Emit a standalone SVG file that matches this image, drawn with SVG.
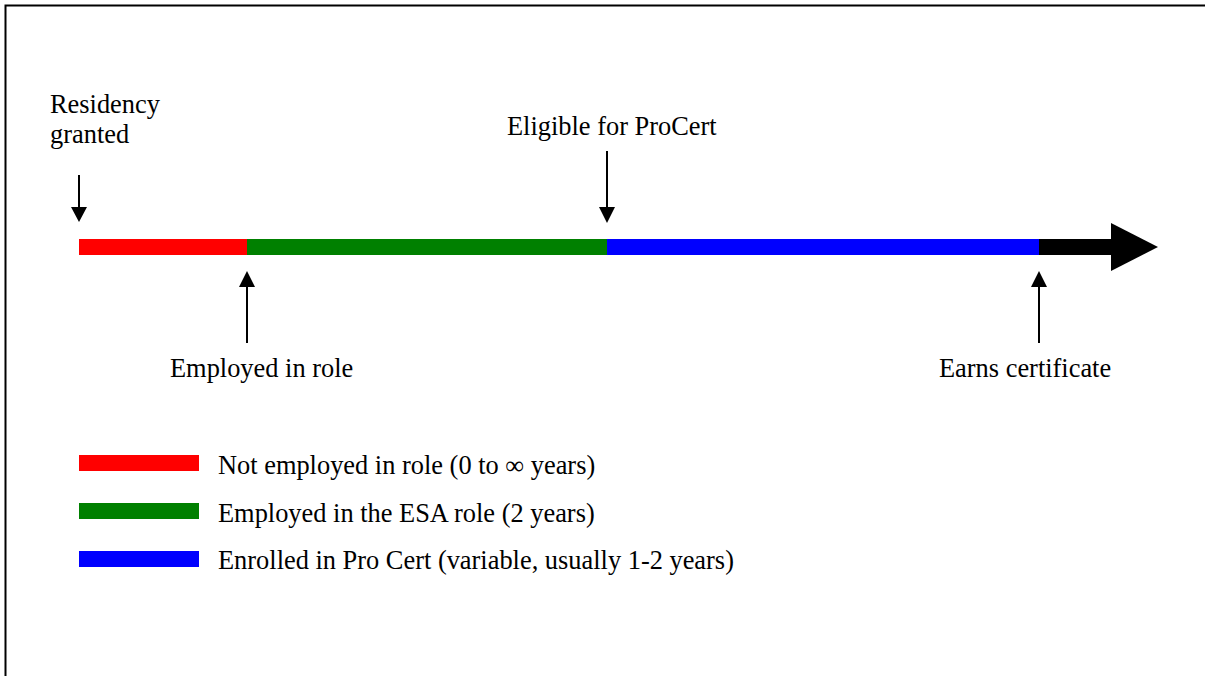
<svg xmlns="http://www.w3.org/2000/svg" width="1205" height="676" viewBox="0 0 1205 676">
  <style>
    .t { font-family: "Liberation Serif", "Times New Roman", serif; font-size: 26.4px; fill: #000; }
    .shaft { stroke: #000; stroke-width: 2; fill: none; }
    .head { fill: #000; }
  </style>
  <rect width="1205" height="676" fill="#fff"/>
  <path d="M5.5,676 V5.5 H1205" fill="none" stroke="#000" stroke-width="2"/>

  <g id="timeline">
    <rect x="79" y="239" width="168" height="16" fill="#ff0000"/>
    <rect x="247" y="239" width="360" height="16" fill="#008000"/>
    <rect x="607" y="239" width="432" height="16" fill="#0000ff"/>
    <rect x="1039" y="239" width="73" height="16" fill="#000"/>
    <polygon points="1111,223 1158,247 1111,271" fill="#000"/>
  </g>

  <g id="connectors">
    <g id="arrow-residency">
      <line class="shaft" x1="79" y1="175" x2="79" y2="208"/>
      <polygon class="head" points="71,207 87,207 79,222"/>
    </g>
    <g id="arrow-eligible">
      <line class="shaft" x1="607" y1="151" x2="607" y2="208"/>
      <polygon class="head" points="599,207 615,207 607,223"/>
    </g>
    <g id="arrow-employed">
      <line class="shaft" x1="247" y1="343" x2="247" y2="286"/>
      <polygon class="head" points="239,287 255,287 247,271"/>
    </g>
    <g id="arrow-earns">
      <line class="shaft" x1="1039" y1="343" x2="1039" y2="286"/>
      <polygon class="head" points="1031,287 1047,287 1039,271"/>
    </g>
  </g>

  <g id="label-residency">
    <text class="t" x="50" y="113">Residency</text>
    <text class="t" x="50" y="143">granted</text>
  </g>
  <g id="label-eligible">
    <text class="t" x="507" y="135">Eligible for ProCert</text>
  </g>
  <g id="label-employed">
    <text class="t" x="170" y="377">Employed in role</text>
  </g>
  <g id="label-earns">
    <text class="t" x="939" y="377">Earns certificate</text>
  </g>

  <g id="legend">
    <g id="legend-red">
      <rect x="79" y="455" width="120" height="16" fill="#ff0000"/>
      <text class="t" x="218" y="474">Not employed in role (0 to ∞ years)</text>
    </g>
    <g id="legend-green">
      <rect x="79" y="503" width="120" height="16" fill="#008000"/>
      <text class="t" x="218" y="522">Employed in the ESA role (2 years)</text>
    </g>
    <g id="legend-blue">
      <rect x="79" y="551" width="120" height="16" fill="#0000ff"/>
      <text class="t" x="218" y="569">Enrolled in Pro Cert (variable, usually 1-2 years)</text>
    </g>
  </g>
</svg>
